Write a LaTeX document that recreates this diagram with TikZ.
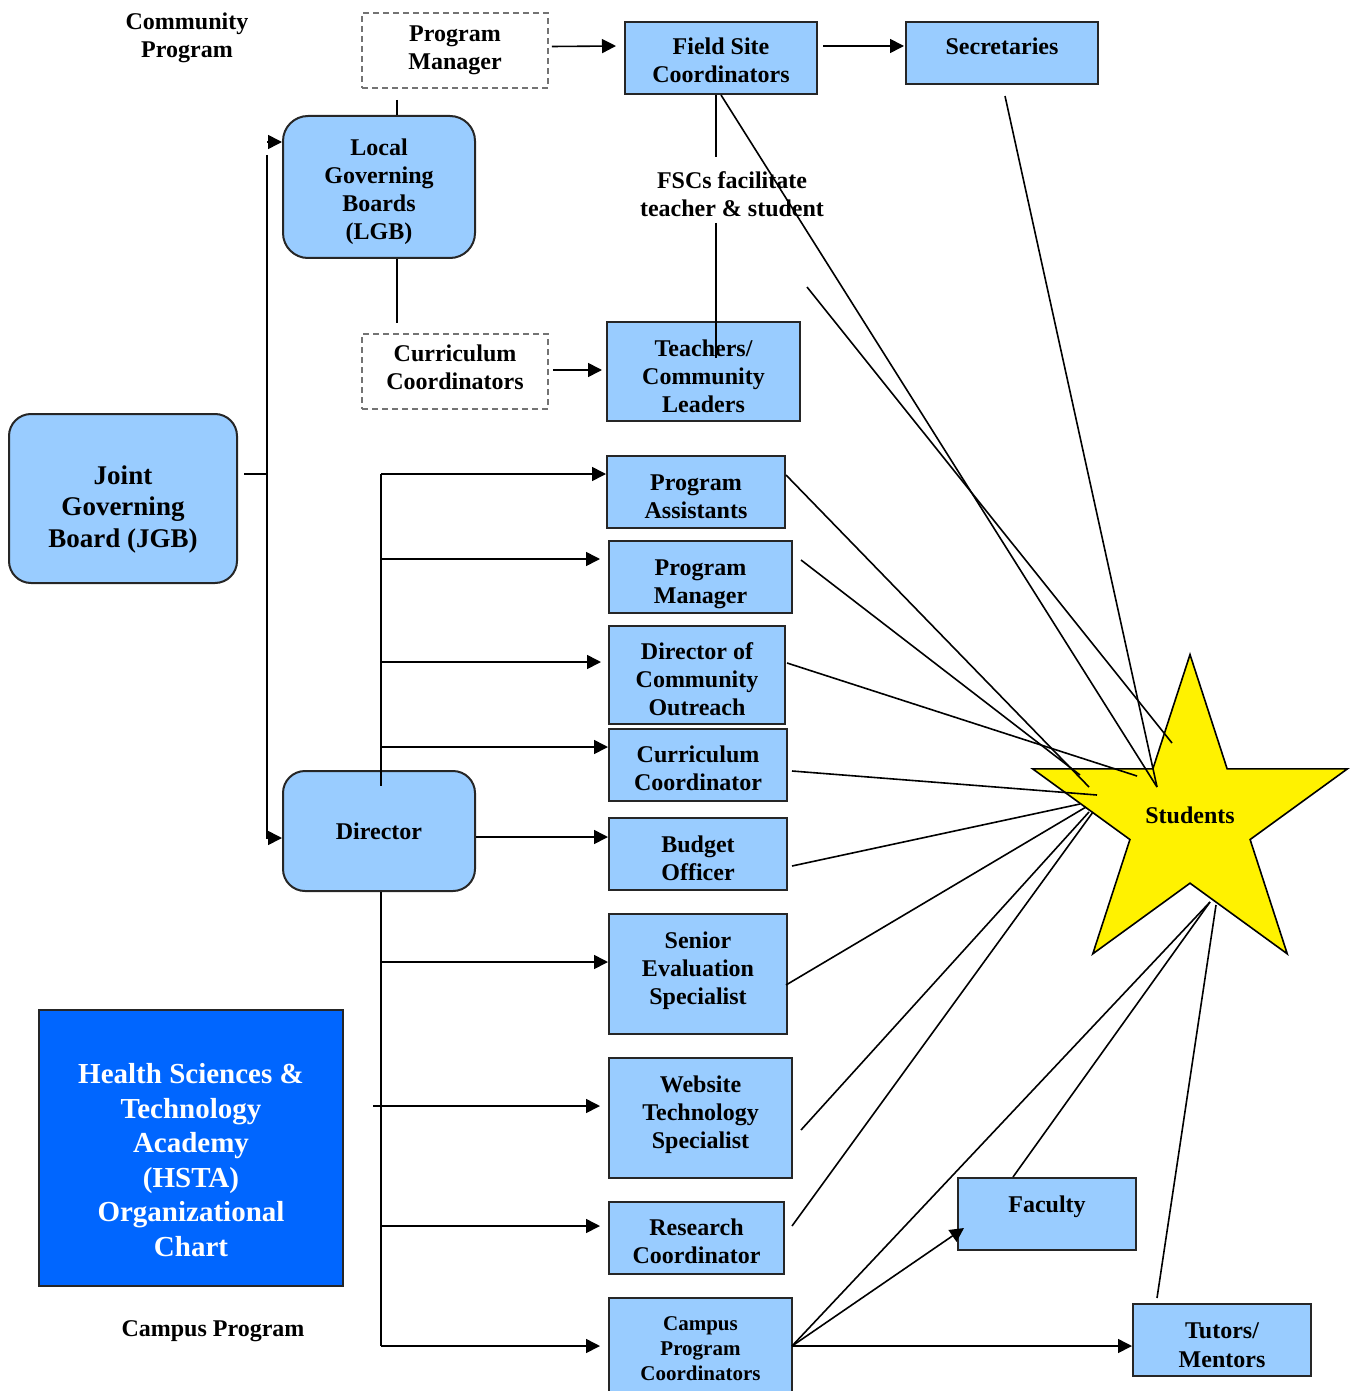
\documentclass[tikz,border=0pt]{standalone}
\usepackage{fontspec}
\setmainfont{Liberation Serif}
\usetikzlibrary{arrows.meta}
\usetikzlibrary{shapes.geometric}
\usetikzlibrary{calc}
\definecolor{boxblue}{HTML}{99CCFF}
\definecolor{hstablue}{HTML}{0066FF}
\newcommand\padtop[1]{\rule{0pt}{#1}}
\newcommand\padbot[1]{\rule[-#1]{0pt}{0pt}}
\tikzset{
    box/.style={draw=black!85, line width=1pt, fill=boxblue, align=center, inner sep=0pt,
        font=\bfseries\fontsize{12}{14}\selectfont},
    roundbox/.style={box, rounded corners=11pt},
    dashbox/.style={draw=black!55, line width=0.8pt, dash pattern=on 3pt off 2pt, align=center,
        inner sep=0pt, font=\bfseries\fontsize{12}{14}\selectfont},
    plain/.style={align=center, inner sep=0pt, font=\bfseries\fontsize{12}{14}\selectfont},
    link/.style={line width=0.8pt},
    arr/.style={link, -{Triangle[length=7pt, width=7pt]}}
}

\begin{document}
\begin{tikzpicture}[x=0.5pt, y=-0.5pt]
    \useasboundingbox (0,0) rectangle (1354,1391);

    % community program
    \node [plain] (comm) at (187,38) {Community\\Program};
    \node [dashbox, minimum width=93pt, minimum height=37.5pt] (pmtop) at (455,50.5) {Program\\Manager};
    \node [box, minimum width=96pt, minimum height=36pt] (fsc) at (721,58) {\padtop{11.1pt}Field Site\\Coordinators};
    \node [box, minimum width=96pt, minimum height=31pt, text depth=6.5pt] (sec) at (1002,53) {Secretaries};
    \node [roundbox, rounded corners=12.5pt, minimum width=96pt, minimum height=71pt] (lgb) at (379,187) {\padtop{13.1pt}Local\\Governing\\Boards\\(LGB)};
    \node [dashbox, minimum width=93pt, minimum height=37.5pt] (ccd) at (455,371.5) {Curriculum\\Coordinators\padbot{4pt}};
    \node [box, minimum width=96.5pt, minimum height=49.5pt] (teach) at (703.5,371.5) {\padtop{13.2pt}Teachers/\\Community\\Leaders};
    \node [plain] (fscnote) at (732,194) {FSCs facilitate\\teacher \& student};
    \coordinate (loose) at (807,287);

    % campus program
    \node [roundbox, minimum width=114pt, minimum height=84.5pt, font=\bfseries\fontsize{13.5}{15.75}\selectfont] (jgb) at (123,498.5) {\padtop{20pt}Joint\\Governing\\Board (JGB)};
    \node [roundbox, minimum width=96pt, minimum height=60pt] (dir) at (379,831) {Director};
    \node [box, minimum width=89pt, minimum height=36pt] (pa) at (696,492) {\padtop{12.6pt}Program\\Assistants};
    \node [box, minimum width=91.5pt, minimum height=36pt] (pm) at (700.5,577) {\padtop{15.1pt}Program\\Manager};
    \node [box, minimum width=88pt, minimum height=49pt] (dco) at (697,675) {\padtop{12.2pt}Director of\\Community\\Outreach};
    \node [box, minimum width=89pt, minimum height=36pt] (cc) at (698,765) {\padtop{12.1pt}Curriculum\\Coordinator};
    \node [box, minimum width=89pt, minimum height=36pt] (bud) at (698,854) {\padtop{12.6pt}Budget\\Officer};
    \node [box, minimum width=89pt, minimum height=60pt] (ses) at (698,974) {Senior\\Evaluation\\Specialist\padbot{5.6pt}};
    \node [box, minimum width=91.5pt, minimum height=60pt] (web) at (700.5,1118) {Website\\Technology\\Specialist\padbot{5.6pt}};
    \node [box, minimum width=87.5pt, minimum height=36pt] (res) at (696.5,1238) {\padtop{12.1pt}Research\\Coordinator};
    \node [box, minimum width=91.5pt, minimum height=51pt, font=\bfseries\fontsize{10.5}{12.5}\selectfont] (cpc) at (700.5,1349) {Campus\\Program\\Coordinators};
    \node [box, minimum width=89pt, minimum height=36pt, text depth=9.5pt] (fac) at (1047,1214) {Faculty};
    \node [box, minimum width=89pt, minimum height=36pt] (tut) at (1222,1340) {\padtop{13.1pt}Tutors/\\Mentors};
    \node [draw=black!85, line width=1pt, fill=hstablue, text=white, align=center, inner sep=0pt,
        minimum width=152pt, minimum height=138pt,
        font=\bfseries\fontsize{14.5}{17.25}\selectfont] (hsta) at (191,1148)
        {\padtop{21.9pt}Health Sciences \&\\Technology\\Academy\\(HSTA)\\Organizational\\Chart};
    \node [plain] (camp) at (213,1331) {Campus Program};

    \node [star, star points=5, star point ratio=2.618, minimum size=165pt, inner sep=0pt,
        draw=black, line width=0.8pt, fill=yellow, font=\bfseries\fontsize{12}{14}\selectfont] (stu) at (1190,820) {Students\padbot{5pt}};

    % community links
    \draw [arr] ($(pmtop.east)+(3,-4)$) -- ($(fsc.west)+(-8,-12)$);
    \draw [arr] ($(fsc.east)+(5,-12)$) -- ($(sec.west)+(-1,-7)$);
    \draw [arr] ($(ccd.east)+(4,-1.5)$) -- ($(teach.west)+(-4,-1.5)$);
    \draw [link] ($(pmtop.south)+(-58,11)$) -- ($(lgb.north)+(18,0)$);
    \draw [link] ($(lgb.south)+(18,0)$) -- ($(ccd.north)+(-58,-10)$);
    \draw [link] ($(fsc.south)+(-5,0)$) -- ($(fscnote.north)+(-16,-14)$);
    \draw [link] ($(fscnote.south)+(-16,6)$) -- ($(teach.north)+(12.5,37)$);

    % board trunk
    \coordinate (tt) at (267,142);
    \coordinate (tb) at (267,838);
    \draw [arr] (tt) -- (tt -| lgb.west);
    \draw [arr] (267,155) -- (tb) -- (tb -| dir.west);
    \draw [link] ($(jgb.east)+(6,-24.5)$) -- ($(jgb.east)+(30,-24.5)$);

    % director bus
    \coordinate (b1) at (381,474);
    \coordinate (b2) at (381,559);
    \coordinate (b3) at (381,662);
    \coordinate (b4) at (381,747);
    \coordinate (b5) at (381,962);
    \coordinate (b6) at (373,1106);
    \coordinate (b7) at (381,1226);
    \coordinate (b8) at (381,1346);
    \draw [link] (b1) -- ($(dir.north)+(2,16)$);
    \draw [link] ($(dir.south)+(2,0)$) -- (b8);
    \draw [arr] (b1) -- (b1 -| pa.west);
    \draw [arr, shorten >=4pt] (b2) -- (b2 -| pm.west);
    \draw [arr, shorten >=3.5pt] (b3) -- (b3 -| dco.west);
    \draw [arr] (b4) -- (b4 -| cc.west);
    \draw [arr] ($(dir.east)+(0,6)$) -- ($(bud.west)+(0,-17)$);
    \draw [arr] (b5) -- (b5 -| ses.west);
    \draw [arr, shorten >=4pt] (b6) -- (b6 -| web.west);
    \draw [arr, shorten >=4pt] (b7) -- (b7 -| res.west);
    \draw [arr, shorten >=4pt] (b8) -- (b8 -| cpc.west);

    % campus coordinators
    \coordinate (cpcout) at ($(cpc.east)+(-1,-3)$);
    \draw [arr] (cpcout) -- ($(fac.west)+(7,14)$);
    \draw [arr] (cpcout) -- (cpcout -| tut.west);

    % everyone reaches the students
    \draw [link] (fsc.south) -- ($(stu)+(-33,-33)$);
    \draw [link] ($(sec.south)+(3,11)$) -- ($(stu)+(-33,-33)$);
    \draw [link] (loose) -- ($(stu)+(-18,-77)$);
    \draw [link] ($(pa.north east)+(0,20)$) -- ($(stu)+(-101,-33)$);
    \draw [link] ($(pm.east)+(8,-17)$) -- ($(stu)+(-110,-45)$);
    \draw [link] ($(dco.east)+(1,-12)$) -- ($(stu)+(-53,-44)$);
    \draw [link] ($(cc.east)+(4,6)$) -- ($(stu)+(-93,-25)$);
    \draw [link] ($(bud.east)+(4,12)$) -- ($(stu)+(-110,-16)$);
    \draw [link] ($(ses.east)+(-2,11)$) -- ($(stu)+(-104,-13)$);
    \draw [link] ($(web.east)+(8,12)$) -- ($(stu)+(-101,-8)$);
    \draw [link] ($(res.east)+(7,-12)$) -- ($(stu)+(-97,-8)$);
    \draw [link] (cpcout) -- ($(stu)+(20,82)$);
    \draw [link] ($(fac.north)+(-34,0)$) -- ($(stu)+(20,82)$);
    \draw [link] ($(tut.north)+(-65,-5)$) -- ($(stu)+(26,85)$);
\end{tikzpicture}
\end{document}
